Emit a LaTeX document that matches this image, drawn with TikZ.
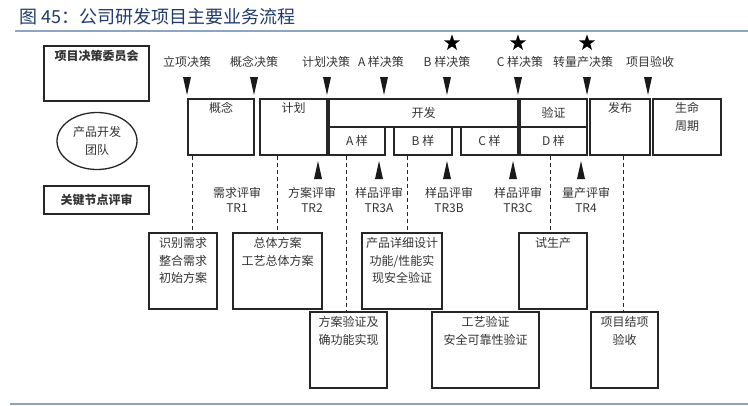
\documentclass[tikz,border=0pt]{standalone}
\usepackage{fontspec}
\setmainfont{Noto Sans CJK SC}
\usetikzlibrary{
    positioning,
    shapes.geometric
}
\definecolor{titleblue}{RGB}{31,58,110}
\definecolor{rulegray}{RGB}{140,165,195}
\tikzset{
    flowbox/.style={
        draw=black!85,
        line width=1.3pt,
        inner sep=0pt
    },
    txt/.style={
        text=black!80,
        font=\fontsize{12}{17.5}\selectfont,
        align=center,
        inner sep=2pt
    },
    revtxt/.style={
        txt,
        font=\fontsize{12}{15}\selectfont
    },
    dashln/.style={
        draw=black!85,
        line width=1.3pt,
        dash pattern=on 4pt off 3pt
    },
    starmark/.style={
        star,
        star points=5,
        star point ratio=2.5,
        fill=black,
        minimum size=17pt,
        inner sep=0pt
    }
}

\begin{document}
\begin{tikzpicture}[
    x=1pt,
    y=-1pt
]
    \useasboundingbox (0,0) rectangle (748,405);

    % Titulo
    \node[anchor=west, inner sep=0pt, text=titleblue,
          font=\fontsize{18}{21}\selectfont] (title) at (19,17)
          {图 45：公司研发项目主要业务流程};
    \draw[rulegray, line width=1.5pt] (15,31) -- (748,31);
    \draw[rulegray, line width=1.5pt] (10,404) -- (748,404);

    % Columna izquierda
    \node[flowbox, minimum width=105pt, minimum height=55pt] (juece) at (96.5,73.5) {};
    \node[txt, below=3pt of juece.north] (juece-t) {\bfseries 项目决策委员会};
    \node[flowbox, ellipse, txt, minimum width=80pt, minimum height=57pt] (tuandui) at (97,141)
        {产品开发\\团队};
    \node[flowbox, minimum width=105pt, minimum height=28pt] (jiedian) at (96.5,200) {};
    \node[txt] (jiedian-t) at (jiedian) {\bfseries 关键节点评审};

    % Decisiones
    \node[txt] (d1) at (187,62) {立项决策};
    \node[txt] (d2) at (254,62) {概念决策};
    \node[txt] (d3) at (326,62) {计划决策};
    \node[txt] (d4) at (381,62) {A 样决策};
    \node[txt] (d5) at (447,62) {B 样决策};
    \node[txt] (d6) at (520,62) {C 样决策};
    \node[txt] (d7) at (583,62) {转量产决策};
    \node[txt] (d8) at (650,62) {项目验收};

    \node[starmark] (s1) at (452,43) {};
    \node[starmark] (s2) at (518,43) {};
    \node[starmark] (s3) at (587,43) {};

    \foreach \x in {187,254,327,384,447,518,587,648}
        \fill[black!90] (\x-4,77) -- (\x+4,77) -- (\x,95) -- cycle;

    % Fases
    \node[flowbox, minimum width=66pt, minimum height=56pt] (gainian) at (221,127) {};
    \node[txt, below=2pt of gainian.north] (gainian-t) {概念};
    \node[flowbox, minimum width=67pt, minimum height=56pt] (jihua) at (293.5,127) {};
    \node[txt, below=2pt of jihua.north] (jihua-t) {计划};
    \node[flowbox, minimum width=189pt, minimum height=28pt] (kaifa) at (423.5,113) {};
    \node[txt] (kaifa-t) at (kaifa) {开发};
    \node[flowbox, minimum width=56pt, minimum height=28pt] (ayang) at (357,141) {};
    \node[txt] (ayang-t) at (ayang) {A 样};
    \node[flowbox, minimum width=58pt, minimum height=28pt] (byang) at (423,141) {};
    \node[txt] (byang-t) at (byang) {B 样};
    \node[flowbox, minimum width=57pt, minimum height=28pt] (cyang) at (489.5,141) {};
    \node[txt] (cyang-t) at (cyang) {C 样};
    \node[flowbox, minimum width=67pt, minimum height=28pt] (yanzheng) at (553.5,113) {};
    \node[txt] (yanzheng-t) at (yanzheng) {验证};
    \node[flowbox, minimum width=67pt, minimum height=28pt] (dyang) at (553.5,141) {};
    \node[txt] (dyang-t) at (dyang) {D 样};
    \node[flowbox, minimum width=60pt, minimum height=56pt] (fabu) at (620,127) {};
    \node[txt, below=2pt of fabu.north] (fabu-t) {发布};
    \node[flowbox, minimum width=68pt, minimum height=56pt] (shengming) at (687,127) {};
    \node[txt, below=2pt of shengming.north] (shengming-t) {生命\\周期};

    % Revisiones
    \foreach \x in {318,379,447,513,581}
        \fill[black!90] (\x-4,179) -- (\x+4,179) -- (\x,161) -- cycle;

    \node[revtxt] (tr1) at (237,200) {需求评审\\TR1};
    \node[revtxt] (tr2) at (312,200) {方案评审\\TR2};
    \node[revtxt] (tr3a) at (379,200) {样品评审\\TR3A};
    \node[revtxt] (tr3b) at (449,200) {样品评审\\TR3B};
    \node[revtxt] (tr3c) at (518,200) {样品评审\\TR3C};
    \node[revtxt] (tr4) at (586,200) {量产评审\\TR4};

    % Tareas
    \node[flowbox, minimum width=68pt, minimum height=76pt] (shibie) at (183,271) {};
    \node[txt, below=3pt of shibie.north] (shibie-t) {识别需求\\整合需求\\初始方案};
    \node[flowbox, minimum width=89pt, minimum height=76pt] (zongti) at (277.5,271) {};
    \node[txt, below=3pt of zongti.north] (zongti-t) {总体方案\\工艺总体方案};
    \node[flowbox, minimum width=80pt, minimum height=76pt] (chanpin) at (402,271) {};
    \node[txt, below=3pt of chanpin.north] (chanpin-t) {产品详细设计\\功能/性能实\\现安全验证};
    \node[flowbox, minimum width=68pt, minimum height=76pt] (shisheng) at (553,271) {};
    \node[txt, below=3pt of shisheng.north] (shisheng-t) {试生产};
    \node[flowbox, minimum width=77pt, minimum height=76pt] (fangan) at (348.5,350) {};
    \node[txt, below=3pt of fangan.north] (fangan-t) {方案验证及\\确功能实现};
    \node[flowbox, minimum width=107pt, minimum height=76pt] (gongyi) at (485.5,350) {};
    \node[txt, below=3pt of gongyi.north] (gongyi-t) {工艺验证\\安全可靠性验证};
    \node[flowbox, minimum width=67pt, minimum height=76pt] (jiexiang) at (624.5,350) {};
    \node[txt, below=3pt of jiexiang.north] (jiexiang-t) {项目结项\\验收};

    % Lineas punteadas
    \draw[dashln] ([xshift=5pt]gainian.south west) -- ([xshift=5pt]gainian.south west |- shibie.north);
    \draw[dashln] ([xshift=18pt]jihua.south west) -- ([xshift=18pt]jihua.south west |- zongti.north);
    \draw[dashln] ([xshift=18pt]ayang.south west) -- ([xshift=18pt]ayang.south west |- fangan.north);
    \draw[dashln] ([xshift=14pt]byang.south west) -- ([xshift=14pt]byang.south west |- chanpin.north);
    \draw[dashln] ([xshift=31pt]dyang.south west) -- ([xshift=31pt]dyang.south west |- shisheng.north);
    \draw[dashln] ([xshift=34pt]fabu.south west) -- ([xshift=34pt]fabu.south west |- jiexiang.north);

\end{tikzpicture}
\end{document}
